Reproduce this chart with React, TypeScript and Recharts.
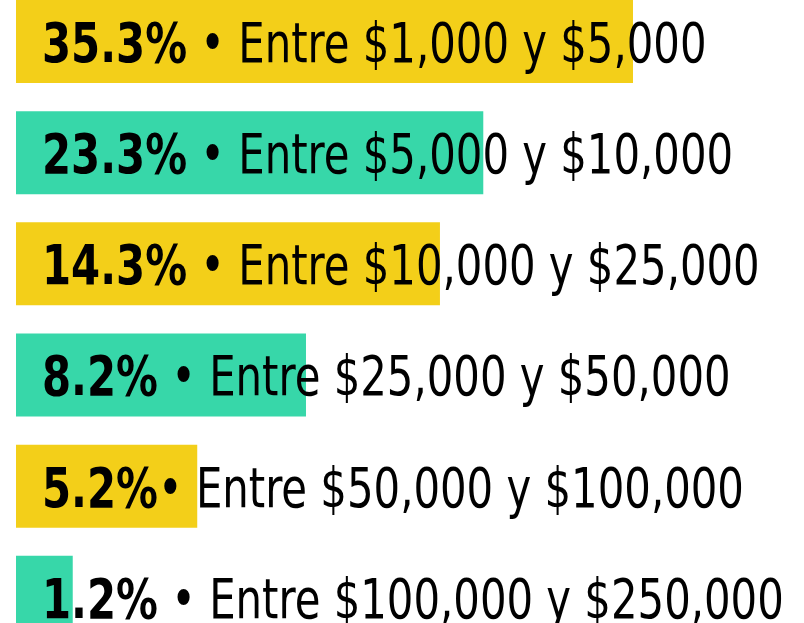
import { BarChart, Bar, XAxis, YAxis, LabelList, Cell } from "recharts";

const porcentajes = ["35.3%", "23.3%", "14.3%", "8.2%", "5.2%", "1.2%"];
const rangos = [
  "Entre $1,000 y $5,000",
  "Entre $5,000 y $10,000",
  "Entre $10,000 y $25,000",
  "Entre $25,000 y $50,000",
  "Entre $50,000 y $100,000",
  "Entre $100,000 y $250,000",
];
const separadores = [" • ", " • ", " • ", " • ", "• ", " • "];
// largo visual de cada barra (0-100 del ancho útil)
const largoBarra = [78.3, 59.3, 53.8, 36.8, 23.0, 7.2];
const colores = ["#F3CF19", "#37D7A9"];

const data = porcentajes.map((p, i) => ({
  nombre: rangos[i],
  pct: p,
  sep: separadores[i],
  largo: largoBarra[i],
}));

const FONT = "'DejaVu Sans Condensed', 'DejaVu Sans', sans-serif";

const Etiqueta = (props: any) => {
  const { y, height, index } = props;
  const d = data[index];
  return (
    <text
      x={0}
      y={y + height / 2 + 20.5}
      transform="translate(42,0) scale(0.83,1)"
      fontFamily={FONT}
      fontSize={56}
      fill="#000"
    >
      <tspan fontWeight={700}>{d.pct}</tspan>
      <tspan fontWeight={400} style={{ whiteSpace: "pre" }}>{d.sep + d.nombre}</tspan>
    </text>
  );
};

export default function App() {
  return (
    <div style={{ position: "absolute", top: -14, left: 0, width: 804, height: 667, background: "#fff" }}>
      <BarChart
        width={804}
        height={667}
        data={data}
        layout="vertical"
        margin={{ top: 0, right: 0, left: 16, bottom: 0 }}
        barSize={83}
      >
        <XAxis type="number" domain={[0, 100]} hide />
        <YAxis type="category" dataKey="nombre" hide />
        <Bar dataKey="largo" isAnimationActive={false}>
          {data.map((_, i) => (
            <Cell key={`c-${i}`} fill={colores[i % 2]} />
          ))}
          <LabelList dataKey="pct" content={<Etiqueta />} />
        </Bar>
      </BarChart>
    </div>
  );
}
